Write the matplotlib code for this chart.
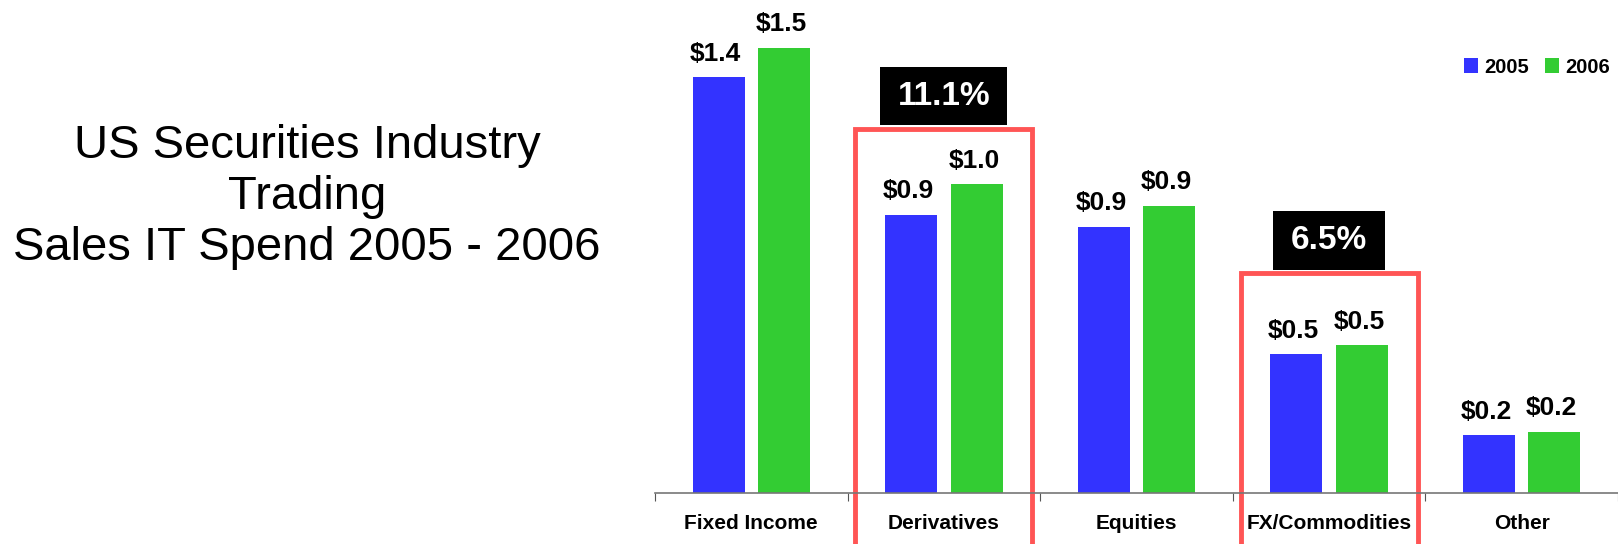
import matplotlib.pyplot as plt
from matplotlib.patches import Rectangle
import numpy as np

plt.rcParams['font.family'] = ['Liberation Sans', 'DejaVu Sans']

categories = ['Fixed Income', 'Derivatives', 'Equities', 'FX/Commodities', 'Other']
spend_2005 = [1.40, 0.936, 0.896, 0.467, 0.194]
spend_2006 = [1.50, 1.040, 0.968, 0.497, 0.207]
labels_2005 = ['$1.4', '$0.9', '$0.9', '$0.5', '$0.2']
labels_2006 = ['$1.5', '$1.0', '$0.9', '$0.5', '$0.2']
growth_idx = [1, 3]
growth_labels = ['11.1%', '6.5%']

blue = '#3333FF'
green = '#33CC33'

fig = plt.figure(figsize=(16.18, 5.44), dpi=100)
ax = fig.add_axes([655 / 1618, 51 / 544, 1 - 655 / 1618, 493 / 544])

x = np.arange(len(categories))
w = 0.27
b1 = ax.bar(x - 0.17, spend_2005, w, color=blue, label='2005')
b2 = ax.bar(x + 0.17, spend_2006, w, color=green, label='2006')

for bars, labs in [(b1, labels_2005), (b2, labels_2006)]:
    for r, t in zip(bars, labs):
        ax.annotate(t, (r.get_x() + r.get_width() / 2, r.get_height()),
                    xytext=(-2, 17), textcoords='offset points',
                    ha='center', va='center', fontsize=19, fontweight='bold')

ax.set_xlim(-0.5, len(categories) - 0.5)
ax.set_ylim(0, 1.66)
for s in ['top', 'right', 'left']:
    ax.spines[s].set_visible(False)
ax.spines['bottom'].set_color('#777777')
ax.spines['bottom'].set_linewidth(1.2)
ax.set_yticks([])
ax.set_xticks(np.arange(len(categories) + 1) - 0.5)
ax.set_xticklabels([])
ax.tick_params(axis='x', direction='out', length=6, color='#555555')
for i, c in enumerate(categories):
    ax.text(i, -31 / 297, c, ha='center', va='center', fontsize=15,
            fontweight='bold')

# highlight boxes with growth rates
box_tops = [1.226, 0.741]
tag_spans = [(1.239, 1.434, 0.33), (0.751, 0.949, 0.29)]
for i, top, (lo, hi, hw), g in zip(growth_idx, box_tops, tag_spans, growth_labels):
    ax.add_patch(Rectangle((i - 0.46, -0.5), 0.92, top + 0.5, fill=False,
                           edgecolor='#FF5555', linewidth=3.5, clip_on=False))
    ax.add_patch(Rectangle((i - hw, lo), 2 * hw, hi - lo, facecolor='black',
                           edgecolor='none', clip_on=False))
    ax.text(i, (lo + hi) / 2, g, ha='center', va='center', color='white',
            fontsize=24, fontweight='bold')

ax.legend(loc='upper right', bbox_to_anchor=(1.01, 0.92), ncol=2, frameon=False,
          prop={'weight': 'bold', 'size': 14.5}, handlelength=0.7, handleheight=0.7,
          handletextpad=0.3, columnspacing=0.8)

fig.text(307 / 1618, 1 - 197 / 544, 'US Securities Industry\nTrading\nSales IT Spend 2005 - 2006',
         ha='center', va='center', fontsize=34, linespacing=1.2)

fig.savefig('out.png', dpi=100)
